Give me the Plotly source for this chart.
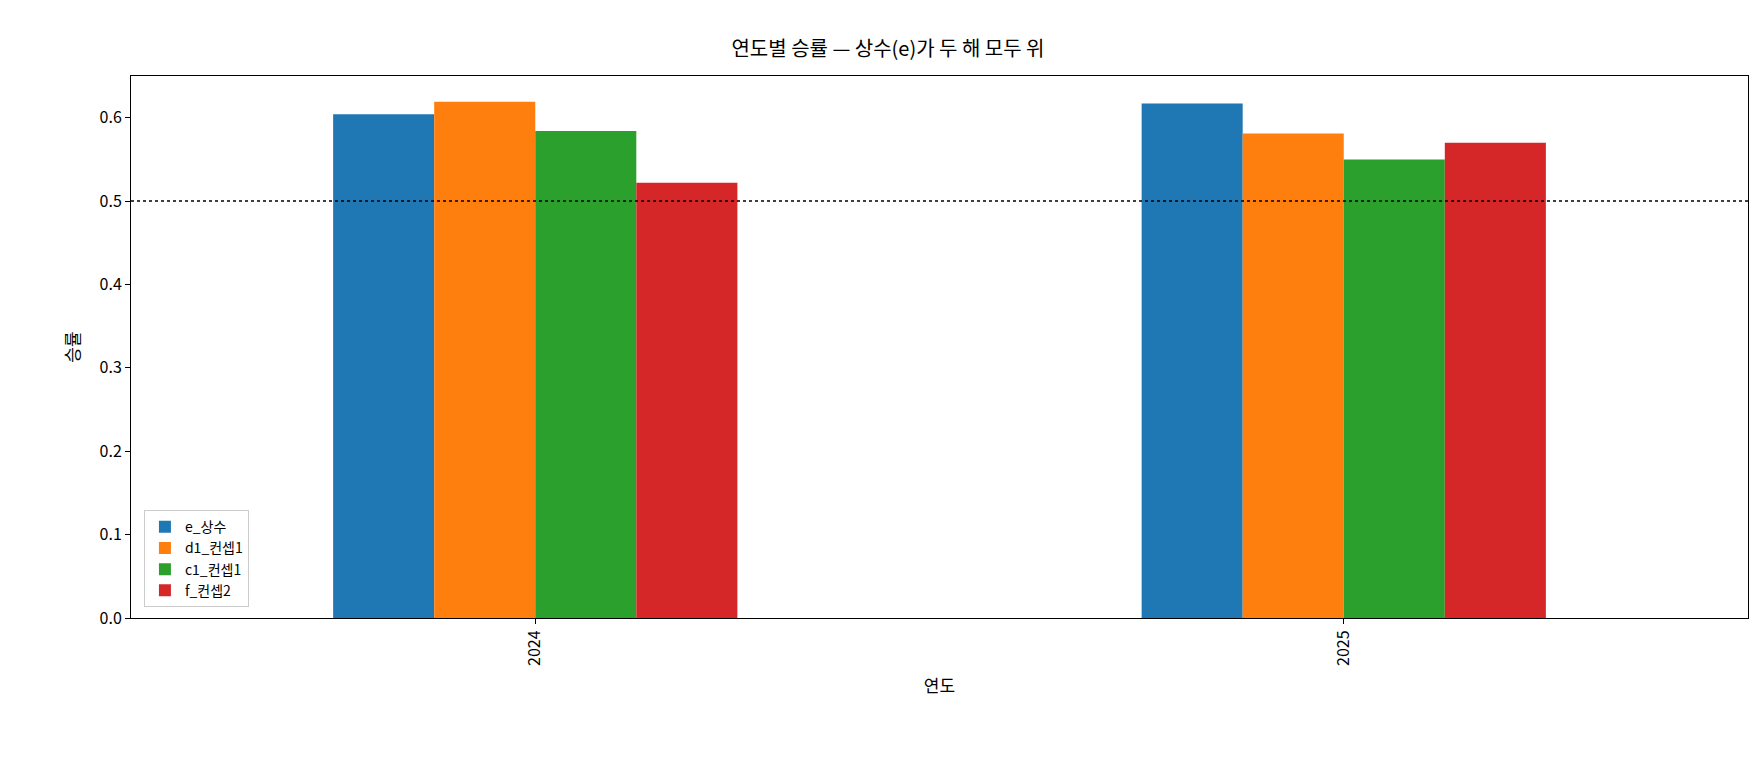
import plotly.graph_objects as go

years = ["2024", "2025"]
series = ["e_상수", "d1_컨셉1", "c1_컨셉1", "f_컨셉2"]
values = {
    "e_상수": [0.604, 0.617],
    "d1_컨셉1": [0.619, 0.581],
    "c1_컨셉1": [0.584, 0.550],
    "f_컨셉2": [0.522, 0.570],
}
colors = ["#1f77b4", "#ff7f0e", "#2ca02c", "#d62728"]

fig = go.Figure()
for name, c in zip(series, colors):
    fig.add_trace(go.Bar(x=years, y=values[name], name=name, marker_color=c, marker_line_width=0))

fig.add_hline(y=0.5, line=dict(color="black", width=1.5, dash="dot"))

axis = dict(showline=True, linecolor="black", linewidth=1, mirror=True, ticks="outside",
            ticklen=5, tickcolor="black", showgrid=False, zeroline=False,
            tickfont=dict(size=16, color="black"))
fig.update_layout(
    width=1760, height=760,
    font=dict(family="Noto Sans CJK KR", color="black"),
    paper_bgcolor="white", plot_bgcolor="white",
    barmode="group", bargap=0.5, bargroupgap=0,
    margin=dict(l=123, r=20, t=68, b=150),
    title=dict(text="연도별 승률 — 상수(e)가 두 해 모두 위", x=0.5, xanchor="center",
               y=0.955, font=dict(size=20)),
    xaxis=dict(axis, tickangle=-90, title=dict(text="연도", font=dict(size=17))),
    yaxis=dict(axis, range=[0, 0.65], dtick=0.1, tickformat=".1f",
               title=dict(text="승률", font=dict(size=17))),
    legend=dict(x=0.008, y=0.02, xanchor="left", yanchor="bottom",
                bordercolor="#cccccc", borderwidth=1, bgcolor="white",
                font=dict(size=14)),
)
fig.write_html("out.html")
